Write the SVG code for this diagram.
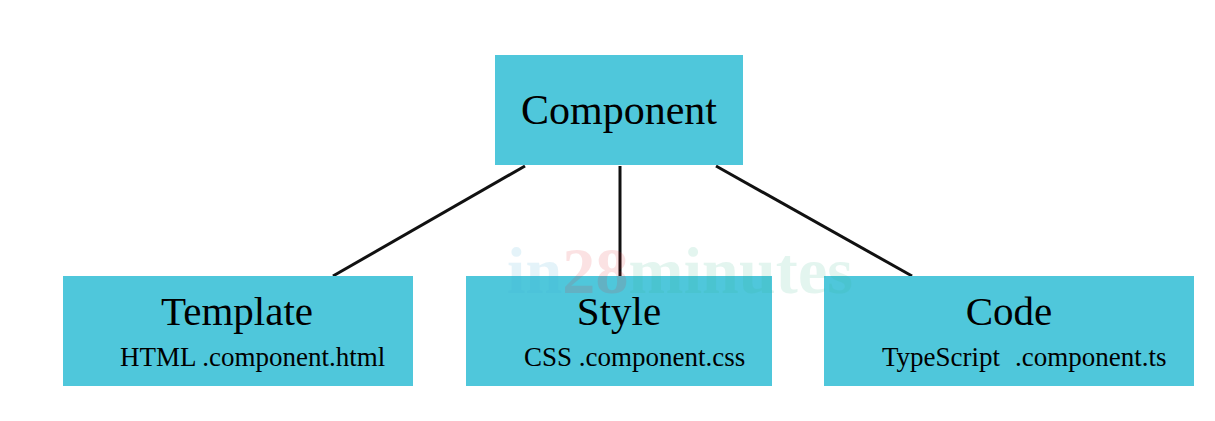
<svg xmlns="http://www.w3.org/2000/svg" width="1215" height="421" viewBox="0 0 1215 421">
<style>
.box{fill:#4fc7db}
.t{font-family:"Liberation Serif","Times New Roman",serif;fill:#000}
.h{font-size:41px}
.s{font-size:27px}
.edge{stroke:#111;stroke-width:3;fill:none}
.wm{font-family:"Liberation Serif",serif;font-size:66px;font-weight:bold}
</style>
<rect width="1215" height="421" fill="#ffffff"/>
<g id="connectors">
<line class="edge" x1="525" y1="166" x2="333" y2="276"/>
<line class="edge" x1="620" y1="166" x2="620" y2="276"/>
<line class="edge" x1="716" y1="166" x2="912" y2="276"/>
</g>
<g id="component">
<rect class="box" x="495" y="55" width="248" height="110"/>
<text class="t" x="619" y="124" font-size="42" text-anchor="middle">Component</text>
</g>
<g id="template">
<rect class="box" x="63" y="276" width="350" height="110"/>
<text class="t h" x="237" y="325" text-anchor="middle">Template</text>
<text class="t s" x="120" y="366">HTML .component.html</text>
</g>
<g id="style">
<rect class="box" x="466" y="276" width="306" height="110"/>
<text class="t h" x="619" y="325" text-anchor="middle">Style</text>
<text class="t s" x="524" y="366">CSS .component.css</text>
</g>
<g id="code">
<rect class="box" x="824" y="276" width="370" height="110"/>
<text class="t h" x="1009" y="325" text-anchor="middle">Code</text>
<text class="t s" y="366"><tspan x="882">TypeScript</tspan><tspan x="1015">.component.ts</tspan></text>
</g>
<g id="watermark" opacity="0.13">
<text class="wm" x="507" y="293" textLength="346"><tspan fill="#3aa9d8">in</tspan><tspan fill="#e8262d">28</tspan><tspan fill="#2fb58a">minutes</tspan></text>
</g>
</svg>
